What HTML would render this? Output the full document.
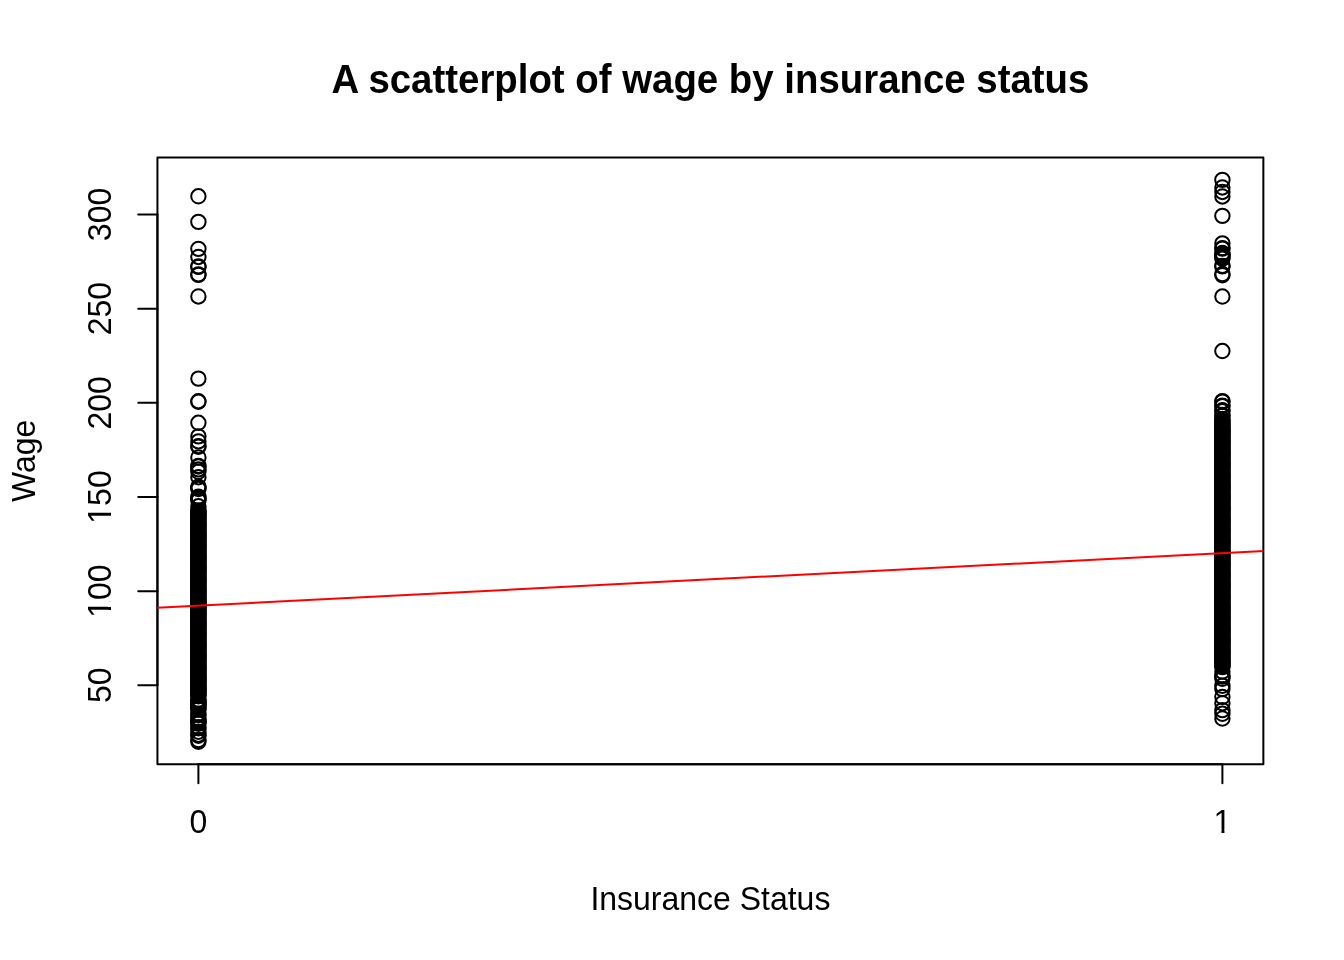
<!DOCTYPE html>
<html lang="en"><head><meta charset="utf-8"><title>A scatterplot of wage by insurance status</title>
<style>html,body{margin:0;padding:0;background:#fff}body{width:1344px;height:960px;overflow:hidden}svg{display:block}text{font-family:"Liberation Sans",sans-serif;fill:#000}</style></head><body>
<svg width="1344" height="960" viewBox="0 0 1344 960">
<rect width="1344" height="960" fill="#fff"/>
<defs><clipPath id="plot"><rect x="157.44" y="157.44" width="1105.92" height="606.72"/></clipPath><clipPath id="k1"><path d="M-12-30H12V-3.3H2.05V2H-0.97V-3.3H-12Z"/></clipPath><clipPath id="k3"><path d="M-30-30H30V8H-10V-3.3H-15.75V2H-18.77V-3.3H-30Z"/></clipPath></defs>
<g fill="none" stroke="#000" stroke-width="2" clip-path="url(#plot)">
<circle cx="198.4" cy="196.30" r="7.2"/><circle cx="198.4" cy="221.90" r="7.2"/><circle cx="198.4" cy="248.85" r="7.2"/><circle cx="198.4" cy="256.95" r="7.2"/><circle cx="198.4" cy="266.40" r="7.2"/><circle cx="198.4" cy="266.90" r="7.2"/><circle cx="198.4" cy="274.40" r="7.2"/><circle cx="198.4" cy="274.90" r="7.2"/><circle cx="198.4" cy="296.45" r="7.2"/><circle cx="198.4" cy="378.60" r="7.2"/><circle cx="198.4" cy="401.20" r="7.2"/><circle cx="198.4" cy="401.80" r="7.2"/><circle cx="198.4" cy="422.80" r="7.2"/><circle cx="198.4" cy="436.40" r="7.2"/><circle cx="198.4" cy="441.40" r="7.2"/><circle cx="198.4" cy="446.10" r="7.2"/><circle cx="198.4" cy="446.70" r="7.2"/><circle cx="198.4" cy="457.50" r="7.2"/><circle cx="198.4" cy="465.90" r="7.2"/><circle cx="198.4" cy="466.50" r="7.2"/><circle cx="198.4" cy="469.40" r="7.2"/><circle cx="198.4" cy="471.80" r="7.2"/><circle cx="198.4" cy="477.20" r="7.2"/><circle cx="198.4" cy="486.60" r="7.2"/><circle cx="198.4" cy="487.80" r="7.2"/><circle cx="198.4" cy="489.00" r="7.2"/><circle cx="198.4" cy="496.70" r="7.2"/><circle cx="198.4" cy="498.00" r="7.2"/><circle cx="198.4" cy="499.30" r="7.2"/><circle cx="198.4" cy="500.60" r="7.2"/><circle cx="198.4" cy="506.20" r="7.2"/><circle cx="198.4" cy="510.40" r="7.2"/><circle cx="198.4" cy="511.50" r="7.2"/><circle cx="198.4" cy="512.60" r="7.2"/><circle cx="198.4" cy="513.70" r="7.2"/><circle cx="198.4" cy="514.80" r="7.2"/><circle cx="198.4" cy="515.90" r="7.2"/><circle cx="198.4" cy="517.00" r="7.2"/><circle cx="198.4" cy="518.10" r="7.2"/><circle cx="198.4" cy="519.20" r="7.2"/><circle cx="198.4" cy="520.30" r="7.2"/><circle cx="198.4" cy="521.40" r="7.2"/><circle cx="198.4" cy="522.50" r="7.2"/><circle cx="198.4" cy="523.60" r="7.2"/><circle cx="198.4" cy="524.70" r="7.2"/><circle cx="198.4" cy="525.80" r="7.2"/><circle cx="198.4" cy="526.90" r="7.2"/><circle cx="198.4" cy="528.00" r="7.2"/><circle cx="198.4" cy="529.10" r="7.2"/><circle cx="198.4" cy="530.20" r="7.2"/><circle cx="198.4" cy="531.30" r="7.2"/><circle cx="198.4" cy="532.40" r="7.2"/><circle cx="198.4" cy="533.50" r="7.2"/><circle cx="198.4" cy="534.60" r="7.2"/><circle cx="198.4" cy="535.70" r="7.2"/><circle cx="198.4" cy="536.80" r="7.2"/><circle cx="198.4" cy="537.90" r="7.2"/><circle cx="198.4" cy="539.00" r="7.2"/><circle cx="198.4" cy="540.10" r="7.2"/><circle cx="198.4" cy="541.20" r="7.2"/><circle cx="198.4" cy="542.30" r="7.2"/><circle cx="198.4" cy="543.40" r="7.2"/><circle cx="198.4" cy="544.50" r="7.2"/><circle cx="198.4" cy="545.60" r="7.2"/><circle cx="198.4" cy="546.70" r="7.2"/><circle cx="198.4" cy="547.80" r="7.2"/><circle cx="198.4" cy="548.90" r="7.2"/><circle cx="198.4" cy="550.00" r="7.2"/><circle cx="198.4" cy="551.10" r="7.2"/><circle cx="198.4" cy="552.20" r="7.2"/><circle cx="198.4" cy="553.30" r="7.2"/><circle cx="198.4" cy="554.40" r="7.2"/><circle cx="198.4" cy="555.50" r="7.2"/><circle cx="198.4" cy="556.60" r="7.2"/><circle cx="198.4" cy="557.70" r="7.2"/><circle cx="198.4" cy="558.80" r="7.2"/><circle cx="198.4" cy="559.90" r="7.2"/><circle cx="198.4" cy="561.00" r="7.2"/><circle cx="198.4" cy="562.10" r="7.2"/><circle cx="198.4" cy="563.20" r="7.2"/><circle cx="198.4" cy="564.30" r="7.2"/><circle cx="198.4" cy="565.40" r="7.2"/><circle cx="198.4" cy="566.50" r="7.2"/><circle cx="198.4" cy="567.60" r="7.2"/><circle cx="198.4" cy="568.70" r="7.2"/><circle cx="198.4" cy="569.80" r="7.2"/><circle cx="198.4" cy="570.90" r="7.2"/><circle cx="198.4" cy="572.00" r="7.2"/><circle cx="198.4" cy="573.10" r="7.2"/><circle cx="198.4" cy="574.20" r="7.2"/><circle cx="198.4" cy="575.30" r="7.2"/><circle cx="198.4" cy="576.40" r="7.2"/><circle cx="198.4" cy="577.50" r="7.2"/><circle cx="198.4" cy="578.60" r="7.2"/><circle cx="198.4" cy="579.70" r="7.2"/><circle cx="198.4" cy="580.80" r="7.2"/><circle cx="198.4" cy="581.90" r="7.2"/><circle cx="198.4" cy="583.00" r="7.2"/><circle cx="198.4" cy="584.10" r="7.2"/><circle cx="198.4" cy="585.20" r="7.2"/><circle cx="198.4" cy="586.30" r="7.2"/><circle cx="198.4" cy="587.40" r="7.2"/><circle cx="198.4" cy="588.50" r="7.2"/><circle cx="198.4" cy="589.60" r="7.2"/><circle cx="198.4" cy="590.70" r="7.2"/><circle cx="198.4" cy="591.80" r="7.2"/><circle cx="198.4" cy="592.90" r="7.2"/><circle cx="198.4" cy="594.00" r="7.2"/><circle cx="198.4" cy="595.10" r="7.2"/><circle cx="198.4" cy="596.20" r="7.2"/><circle cx="198.4" cy="597.30" r="7.2"/><circle cx="198.4" cy="598.40" r="7.2"/><circle cx="198.4" cy="599.50" r="7.2"/><circle cx="198.4" cy="600.60" r="7.2"/><circle cx="198.4" cy="601.70" r="7.2"/><circle cx="198.4" cy="602.80" r="7.2"/><circle cx="198.4" cy="603.90" r="7.2"/><circle cx="198.4" cy="605.00" r="7.2"/><circle cx="198.4" cy="606.10" r="7.2"/><circle cx="198.4" cy="607.20" r="7.2"/><circle cx="198.4" cy="608.30" r="7.2"/><circle cx="198.4" cy="609.40" r="7.2"/><circle cx="198.4" cy="610.50" r="7.2"/><circle cx="198.4" cy="611.60" r="7.2"/><circle cx="198.4" cy="612.70" r="7.2"/><circle cx="198.4" cy="613.80" r="7.2"/><circle cx="198.4" cy="614.90" r="7.2"/><circle cx="198.4" cy="616.00" r="7.2"/><circle cx="198.4" cy="617.10" r="7.2"/><circle cx="198.4" cy="618.20" r="7.2"/><circle cx="198.4" cy="619.30" r="7.2"/><circle cx="198.4" cy="620.40" r="7.2"/><circle cx="198.4" cy="621.50" r="7.2"/><circle cx="198.4" cy="622.60" r="7.2"/><circle cx="198.4" cy="623.70" r="7.2"/><circle cx="198.4" cy="624.80" r="7.2"/><circle cx="198.4" cy="625.90" r="7.2"/><circle cx="198.4" cy="627.00" r="7.2"/><circle cx="198.4" cy="628.10" r="7.2"/><circle cx="198.4" cy="629.20" r="7.2"/><circle cx="198.4" cy="630.30" r="7.2"/><circle cx="198.4" cy="631.40" r="7.2"/><circle cx="198.4" cy="632.50" r="7.2"/><circle cx="198.4" cy="633.60" r="7.2"/><circle cx="198.4" cy="634.70" r="7.2"/><circle cx="198.4" cy="635.80" r="7.2"/><circle cx="198.4" cy="636.90" r="7.2"/><circle cx="198.4" cy="638.00" r="7.2"/><circle cx="198.4" cy="639.10" r="7.2"/><circle cx="198.4" cy="640.20" r="7.2"/><circle cx="198.4" cy="641.30" r="7.2"/><circle cx="198.4" cy="642.40" r="7.2"/><circle cx="198.4" cy="643.50" r="7.2"/><circle cx="198.4" cy="644.60" r="7.2"/><circle cx="198.4" cy="645.70" r="7.2"/><circle cx="198.4" cy="646.80" r="7.2"/><circle cx="198.4" cy="647.90" r="7.2"/><circle cx="198.4" cy="649.00" r="7.2"/><circle cx="198.4" cy="650.10" r="7.2"/><circle cx="198.4" cy="651.20" r="7.2"/><circle cx="198.4" cy="652.30" r="7.2"/><circle cx="198.4" cy="653.40" r="7.2"/><circle cx="198.4" cy="654.50" r="7.2"/><circle cx="198.4" cy="655.60" r="7.2"/><circle cx="198.4" cy="656.70" r="7.2"/><circle cx="198.4" cy="657.80" r="7.2"/><circle cx="198.4" cy="658.90" r="7.2"/><circle cx="198.4" cy="660.00" r="7.2"/><circle cx="198.4" cy="661.10" r="7.2"/><circle cx="198.4" cy="662.20" r="7.2"/><circle cx="198.4" cy="663.30" r="7.2"/><circle cx="198.4" cy="664.40" r="7.2"/><circle cx="198.4" cy="665.50" r="7.2"/><circle cx="198.4" cy="666.60" r="7.2"/><circle cx="198.4" cy="667.70" r="7.2"/><circle cx="198.4" cy="668.80" r="7.2"/><circle cx="198.4" cy="669.90" r="7.2"/><circle cx="198.4" cy="671.00" r="7.2"/><circle cx="198.4" cy="672.10" r="7.2"/><circle cx="198.4" cy="673.20" r="7.2"/><circle cx="198.4" cy="674.30" r="7.2"/><circle cx="198.4" cy="675.40" r="7.2"/><circle cx="198.4" cy="676.50" r="7.2"/><circle cx="198.4" cy="677.60" r="7.2"/><circle cx="198.4" cy="678.70" r="7.2"/><circle cx="198.4" cy="679.80" r="7.2"/><circle cx="198.4" cy="680.90" r="7.2"/><circle cx="198.4" cy="682.00" r="7.2"/><circle cx="198.4" cy="683.10" r="7.2"/><circle cx="198.4" cy="684.20" r="7.2"/><circle cx="198.4" cy="685.30" r="7.2"/><circle cx="198.4" cy="686.40" r="7.2"/><circle cx="198.4" cy="687.50" r="7.2"/><circle cx="198.4" cy="688.60" r="7.2"/><circle cx="198.4" cy="689.70" r="7.2"/><circle cx="198.4" cy="690.80" r="7.2"/><circle cx="198.4" cy="691.90" r="7.2"/><circle cx="198.4" cy="693.00" r="7.2"/><circle cx="198.4" cy="694.10" r="7.2"/><circle cx="198.4" cy="695.20" r="7.2"/><circle cx="198.4" cy="696.30" r="7.2"/><circle cx="198.4" cy="699.60" r="7.2"/><circle cx="198.4" cy="700.70" r="7.2"/><circle cx="198.4" cy="701.80" r="7.2"/><circle cx="198.4" cy="702.90" r="7.2"/><circle cx="198.4" cy="704.00" r="7.2"/><circle cx="198.4" cy="705.10" r="7.2"/><circle cx="198.4" cy="706.20" r="7.2"/><circle cx="198.4" cy="707.30" r="7.2"/><circle cx="198.4" cy="708.40" r="7.2"/><circle cx="198.4" cy="709.50" r="7.2"/><circle cx="198.4" cy="713.90" r="7.2"/><circle cx="198.4" cy="715.00" r="7.2"/><circle cx="198.4" cy="718.30" r="7.2"/><circle cx="198.4" cy="719.40" r="7.2"/><circle cx="198.4" cy="720.50" r="7.2"/><circle cx="198.4" cy="721.60" r="7.2"/><circle cx="198.4" cy="722.70" r="7.2"/><circle cx="198.4" cy="723.80" r="7.2"/><circle cx="198.4" cy="727.20" r="7.2"/><circle cx="198.4" cy="728.30" r="7.2"/><circle cx="198.4" cy="731.80" r="7.2"/><circle cx="198.4" cy="734.70" r="7.2"/><circle cx="198.4" cy="735.80" r="7.2"/><circle cx="198.4" cy="740.00" r="7.2"/><circle cx="198.4" cy="741.70" r="7.2"/>
<circle cx="1222.4" cy="179.91" r="7.2"/><circle cx="1222.4" cy="187.47" r="7.2"/><circle cx="1222.4" cy="191.98" r="7.2"/><circle cx="1222.4" cy="196.43" r="7.2"/><circle cx="1222.4" cy="215.90" r="7.2"/><circle cx="1222.4" cy="243.40" r="7.2"/><circle cx="1222.4" cy="248.10" r="7.2"/><circle cx="1222.4" cy="248.60" r="7.2"/><circle cx="1222.4" cy="253.00" r="7.2"/><circle cx="1222.4" cy="254.30" r="7.2"/><circle cx="1222.4" cy="255.70" r="7.2"/><circle cx="1222.4" cy="257.20" r="7.2"/><circle cx="1222.4" cy="258.60" r="7.2"/><circle cx="1222.4" cy="265.90" r="7.2"/><circle cx="1222.4" cy="266.40" r="7.2"/><circle cx="1222.4" cy="274.00" r="7.2"/><circle cx="1222.4" cy="275.20" r="7.2"/><circle cx="1222.4" cy="296.55" r="7.2"/><circle cx="1222.4" cy="351.06" r="7.2"/><circle cx="1222.4" cy="401.10" r="7.2"/><circle cx="1222.4" cy="401.60" r="7.2"/><circle cx="1222.4" cy="405.60" r="7.2"/><circle cx="1222.4" cy="406.10" r="7.2"/><circle cx="1222.4" cy="410.20" r="7.2"/><circle cx="1222.4" cy="411.10" r="7.2"/><circle cx="1222.4" cy="415.00" r="7.2"/><circle cx="1222.4" cy="416.00" r="7.2"/><circle cx="1222.4" cy="419.00" r="7.2"/><circle cx="1222.4" cy="420.00" r="7.2"/><circle cx="1222.4" cy="421.20" r="7.2"/><circle cx="1222.4" cy="422.80" r="7.2"/><circle cx="1222.4" cy="424.00" r="7.2"/><circle cx="1222.4" cy="425.10" r="7.2"/><circle cx="1222.4" cy="426.20" r="7.2"/><circle cx="1222.4" cy="427.30" r="7.2"/><circle cx="1222.4" cy="428.40" r="7.2"/><circle cx="1222.4" cy="429.50" r="7.2"/><circle cx="1222.4" cy="430.60" r="7.2"/><circle cx="1222.4" cy="431.70" r="7.2"/><circle cx="1222.4" cy="432.80" r="7.2"/><circle cx="1222.4" cy="433.90" r="7.2"/><circle cx="1222.4" cy="435.00" r="7.2"/><circle cx="1222.4" cy="436.10" r="7.2"/><circle cx="1222.4" cy="437.20" r="7.2"/><circle cx="1222.4" cy="438.30" r="7.2"/><circle cx="1222.4" cy="439.40" r="7.2"/><circle cx="1222.4" cy="440.50" r="7.2"/><circle cx="1222.4" cy="441.60" r="7.2"/><circle cx="1222.4" cy="442.70" r="7.2"/><circle cx="1222.4" cy="443.80" r="7.2"/><circle cx="1222.4" cy="444.90" r="7.2"/><circle cx="1222.4" cy="446.00" r="7.2"/><circle cx="1222.4" cy="447.10" r="7.2"/><circle cx="1222.4" cy="448.20" r="7.2"/><circle cx="1222.4" cy="449.30" r="7.2"/><circle cx="1222.4" cy="450.40" r="7.2"/><circle cx="1222.4" cy="451.50" r="7.2"/><circle cx="1222.4" cy="452.60" r="7.2"/><circle cx="1222.4" cy="453.70" r="7.2"/><circle cx="1222.4" cy="454.80" r="7.2"/><circle cx="1222.4" cy="455.90" r="7.2"/><circle cx="1222.4" cy="457.00" r="7.2"/><circle cx="1222.4" cy="458.10" r="7.2"/><circle cx="1222.4" cy="459.20" r="7.2"/><circle cx="1222.4" cy="460.30" r="7.2"/><circle cx="1222.4" cy="461.40" r="7.2"/><circle cx="1222.4" cy="462.50" r="7.2"/><circle cx="1222.4" cy="463.60" r="7.2"/><circle cx="1222.4" cy="464.70" r="7.2"/><circle cx="1222.4" cy="465.80" r="7.2"/><circle cx="1222.4" cy="466.90" r="7.2"/><circle cx="1222.4" cy="468.00" r="7.2"/><circle cx="1222.4" cy="469.10" r="7.2"/><circle cx="1222.4" cy="470.20" r="7.2"/><circle cx="1222.4" cy="471.30" r="7.2"/><circle cx="1222.4" cy="472.40" r="7.2"/><circle cx="1222.4" cy="473.50" r="7.2"/><circle cx="1222.4" cy="474.60" r="7.2"/><circle cx="1222.4" cy="475.70" r="7.2"/><circle cx="1222.4" cy="476.80" r="7.2"/><circle cx="1222.4" cy="477.90" r="7.2"/><circle cx="1222.4" cy="479.00" r="7.2"/><circle cx="1222.4" cy="480.10" r="7.2"/><circle cx="1222.4" cy="481.20" r="7.2"/><circle cx="1222.4" cy="482.30" r="7.2"/><circle cx="1222.4" cy="483.40" r="7.2"/><circle cx="1222.4" cy="484.50" r="7.2"/><circle cx="1222.4" cy="485.60" r="7.2"/><circle cx="1222.4" cy="486.70" r="7.2"/><circle cx="1222.4" cy="487.80" r="7.2"/><circle cx="1222.4" cy="488.90" r="7.2"/><circle cx="1222.4" cy="490.00" r="7.2"/><circle cx="1222.4" cy="491.10" r="7.2"/><circle cx="1222.4" cy="492.20" r="7.2"/><circle cx="1222.4" cy="493.30" r="7.2"/><circle cx="1222.4" cy="494.40" r="7.2"/><circle cx="1222.4" cy="495.50" r="7.2"/><circle cx="1222.4" cy="496.60" r="7.2"/><circle cx="1222.4" cy="497.70" r="7.2"/><circle cx="1222.4" cy="498.80" r="7.2"/><circle cx="1222.4" cy="499.90" r="7.2"/><circle cx="1222.4" cy="501.00" r="7.2"/><circle cx="1222.4" cy="502.10" r="7.2"/><circle cx="1222.4" cy="503.20" r="7.2"/><circle cx="1222.4" cy="504.30" r="7.2"/><circle cx="1222.4" cy="505.40" r="7.2"/><circle cx="1222.4" cy="506.50" r="7.2"/><circle cx="1222.4" cy="507.60" r="7.2"/><circle cx="1222.4" cy="508.70" r="7.2"/><circle cx="1222.4" cy="509.80" r="7.2"/><circle cx="1222.4" cy="510.90" r="7.2"/><circle cx="1222.4" cy="512.00" r="7.2"/><circle cx="1222.4" cy="513.10" r="7.2"/><circle cx="1222.4" cy="514.20" r="7.2"/><circle cx="1222.4" cy="515.30" r="7.2"/><circle cx="1222.4" cy="516.40" r="7.2"/><circle cx="1222.4" cy="517.50" r="7.2"/><circle cx="1222.4" cy="518.60" r="7.2"/><circle cx="1222.4" cy="519.70" r="7.2"/><circle cx="1222.4" cy="520.80" r="7.2"/><circle cx="1222.4" cy="521.90" r="7.2"/><circle cx="1222.4" cy="523.00" r="7.2"/><circle cx="1222.4" cy="524.10" r="7.2"/><circle cx="1222.4" cy="525.20" r="7.2"/><circle cx="1222.4" cy="526.30" r="7.2"/><circle cx="1222.4" cy="527.40" r="7.2"/><circle cx="1222.4" cy="528.50" r="7.2"/><circle cx="1222.4" cy="529.60" r="7.2"/><circle cx="1222.4" cy="530.70" r="7.2"/><circle cx="1222.4" cy="531.80" r="7.2"/><circle cx="1222.4" cy="532.90" r="7.2"/><circle cx="1222.4" cy="534.00" r="7.2"/><circle cx="1222.4" cy="535.10" r="7.2"/><circle cx="1222.4" cy="536.20" r="7.2"/><circle cx="1222.4" cy="537.30" r="7.2"/><circle cx="1222.4" cy="538.40" r="7.2"/><circle cx="1222.4" cy="539.50" r="7.2"/><circle cx="1222.4" cy="540.60" r="7.2"/><circle cx="1222.4" cy="541.70" r="7.2"/><circle cx="1222.4" cy="542.80" r="7.2"/><circle cx="1222.4" cy="543.90" r="7.2"/><circle cx="1222.4" cy="545.00" r="7.2"/><circle cx="1222.4" cy="546.10" r="7.2"/><circle cx="1222.4" cy="547.20" r="7.2"/><circle cx="1222.4" cy="548.30" r="7.2"/><circle cx="1222.4" cy="549.40" r="7.2"/><circle cx="1222.4" cy="550.50" r="7.2"/><circle cx="1222.4" cy="551.60" r="7.2"/><circle cx="1222.4" cy="552.70" r="7.2"/><circle cx="1222.4" cy="553.80" r="7.2"/><circle cx="1222.4" cy="554.90" r="7.2"/><circle cx="1222.4" cy="556.00" r="7.2"/><circle cx="1222.4" cy="557.10" r="7.2"/><circle cx="1222.4" cy="558.20" r="7.2"/><circle cx="1222.4" cy="559.30" r="7.2"/><circle cx="1222.4" cy="560.40" r="7.2"/><circle cx="1222.4" cy="561.50" r="7.2"/><circle cx="1222.4" cy="562.60" r="7.2"/><circle cx="1222.4" cy="563.70" r="7.2"/><circle cx="1222.4" cy="564.80" r="7.2"/><circle cx="1222.4" cy="565.90" r="7.2"/><circle cx="1222.4" cy="567.00" r="7.2"/><circle cx="1222.4" cy="568.10" r="7.2"/><circle cx="1222.4" cy="569.20" r="7.2"/><circle cx="1222.4" cy="570.30" r="7.2"/><circle cx="1222.4" cy="571.40" r="7.2"/><circle cx="1222.4" cy="572.50" r="7.2"/><circle cx="1222.4" cy="573.60" r="7.2"/><circle cx="1222.4" cy="574.70" r="7.2"/><circle cx="1222.4" cy="575.80" r="7.2"/><circle cx="1222.4" cy="576.90" r="7.2"/><circle cx="1222.4" cy="578.00" r="7.2"/><circle cx="1222.4" cy="579.10" r="7.2"/><circle cx="1222.4" cy="580.20" r="7.2"/><circle cx="1222.4" cy="581.30" r="7.2"/><circle cx="1222.4" cy="582.40" r="7.2"/><circle cx="1222.4" cy="583.50" r="7.2"/><circle cx="1222.4" cy="584.60" r="7.2"/><circle cx="1222.4" cy="585.70" r="7.2"/><circle cx="1222.4" cy="586.80" r="7.2"/><circle cx="1222.4" cy="587.90" r="7.2"/><circle cx="1222.4" cy="589.00" r="7.2"/><circle cx="1222.4" cy="590.10" r="7.2"/><circle cx="1222.4" cy="591.20" r="7.2"/><circle cx="1222.4" cy="592.30" r="7.2"/><circle cx="1222.4" cy="593.40" r="7.2"/><circle cx="1222.4" cy="594.50" r="7.2"/><circle cx="1222.4" cy="595.60" r="7.2"/><circle cx="1222.4" cy="596.70" r="7.2"/><circle cx="1222.4" cy="597.80" r="7.2"/><circle cx="1222.4" cy="598.90" r="7.2"/><circle cx="1222.4" cy="600.00" r="7.2"/><circle cx="1222.4" cy="601.10" r="7.2"/><circle cx="1222.4" cy="602.20" r="7.2"/><circle cx="1222.4" cy="603.30" r="7.2"/><circle cx="1222.4" cy="604.40" r="7.2"/><circle cx="1222.4" cy="605.50" r="7.2"/><circle cx="1222.4" cy="606.60" r="7.2"/><circle cx="1222.4" cy="607.70" r="7.2"/><circle cx="1222.4" cy="608.80" r="7.2"/><circle cx="1222.4" cy="609.90" r="7.2"/><circle cx="1222.4" cy="611.00" r="7.2"/><circle cx="1222.4" cy="612.10" r="7.2"/><circle cx="1222.4" cy="613.20" r="7.2"/><circle cx="1222.4" cy="614.30" r="7.2"/><circle cx="1222.4" cy="615.40" r="7.2"/><circle cx="1222.4" cy="616.50" r="7.2"/><circle cx="1222.4" cy="617.60" r="7.2"/><circle cx="1222.4" cy="618.70" r="7.2"/><circle cx="1222.4" cy="619.80" r="7.2"/><circle cx="1222.4" cy="620.90" r="7.2"/><circle cx="1222.4" cy="622.00" r="7.2"/><circle cx="1222.4" cy="623.10" r="7.2"/><circle cx="1222.4" cy="624.20" r="7.2"/><circle cx="1222.4" cy="625.30" r="7.2"/><circle cx="1222.4" cy="626.40" r="7.2"/><circle cx="1222.4" cy="627.50" r="7.2"/><circle cx="1222.4" cy="628.60" r="7.2"/><circle cx="1222.4" cy="629.70" r="7.2"/><circle cx="1222.4" cy="630.80" r="7.2"/><circle cx="1222.4" cy="631.90" r="7.2"/><circle cx="1222.4" cy="633.00" r="7.2"/><circle cx="1222.4" cy="634.10" r="7.2"/><circle cx="1222.4" cy="635.20" r="7.2"/><circle cx="1222.4" cy="636.30" r="7.2"/><circle cx="1222.4" cy="637.40" r="7.2"/><circle cx="1222.4" cy="638.50" r="7.2"/><circle cx="1222.4" cy="639.60" r="7.2"/><circle cx="1222.4" cy="640.70" r="7.2"/><circle cx="1222.4" cy="641.80" r="7.2"/><circle cx="1222.4" cy="642.90" r="7.2"/><circle cx="1222.4" cy="644.00" r="7.2"/><circle cx="1222.4" cy="645.10" r="7.2"/><circle cx="1222.4" cy="646.20" r="7.2"/><circle cx="1222.4" cy="647.30" r="7.2"/><circle cx="1222.4" cy="648.40" r="7.2"/><circle cx="1222.4" cy="649.50" r="7.2"/><circle cx="1222.4" cy="650.60" r="7.2"/><circle cx="1222.4" cy="651.70" r="7.2"/><circle cx="1222.4" cy="652.80" r="7.2"/><circle cx="1222.4" cy="653.90" r="7.2"/><circle cx="1222.4" cy="655.00" r="7.2"/><circle cx="1222.4" cy="656.10" r="7.2"/><circle cx="1222.4" cy="657.20" r="7.2"/><circle cx="1222.4" cy="658.30" r="7.2"/><circle cx="1222.4" cy="659.40" r="7.2"/><circle cx="1222.4" cy="660.50" r="7.2"/><circle cx="1222.4" cy="661.60" r="7.2"/><circle cx="1222.4" cy="662.70" r="7.2"/><circle cx="1222.4" cy="663.80" r="7.2"/><circle cx="1222.4" cy="664.90" r="7.2"/><circle cx="1222.4" cy="666.00" r="7.2"/><circle cx="1222.4" cy="667.10" r="7.2"/><circle cx="1222.4" cy="671.60" r="7.2"/><circle cx="1222.4" cy="675.70" r="7.2"/><circle cx="1222.4" cy="676.50" r="7.2"/><circle cx="1222.4" cy="678.80" r="7.2"/><circle cx="1222.4" cy="685.80" r="7.2"/><circle cx="1222.4" cy="689.10" r="7.2"/><circle cx="1222.4" cy="697.00" r="7.2"/><circle cx="1222.4" cy="703.20" r="7.2"/><circle cx="1222.4" cy="710.10" r="7.2"/><circle cx="1222.4" cy="713.80" r="7.2"/><circle cx="1222.4" cy="718.50" r="7.2"/>
</g>
<g fill="none" stroke="#000" stroke-width="2" stroke-linecap="round" stroke-linejoin="round">
<path d="M198.4 764.16H1222.4"/><path d="M198.4 764.16v19.2"/><path d="M1222.4 764.16v19.2"/><path d="M157.44 685.34V214.46"/><path d="M157.44 685.34h-19.2"/><path d="M157.44 591.17h-19.2"/><path d="M157.44 496.99h-19.2"/><path d="M157.44 402.81h-19.2"/><path d="M157.44 308.64h-19.2"/><path d="M157.44 214.46h-19.2"/>
<rect x="157.44" y="157.44" width="1105.92" height="606.72"/>
</g>
<g font-size="32" text-anchor="middle">
<text transform="translate(198.4 833.0) scale(1 1.04)">0</text><text transform="translate(1222.4 833.0) scale(1 1.04)" clip-path="url(#k1)">1</text><text transform="translate(111.36 685.34) rotate(-90) scale(1 1.04)">50</text><text transform="translate(111.36 591.17) rotate(-90) scale(1 1.04)" clip-path="url(#k3)">100</text><text transform="translate(111.36 496.99) rotate(-90) scale(1 1.04)" clip-path="url(#k3)">150</text><text transform="translate(111.36 402.81) rotate(-90) scale(1 1.04)">200</text><text transform="translate(111.36 308.64) rotate(-90) scale(1 1.04)">250</text><text transform="translate(111.36 214.46) rotate(-90) scale(1 1.04)">300</text>
<text transform="translate(710.4 909.9) scale(1 1.04)">Insurance Status</text>
<text transform="translate(34.56 460.8) rotate(-90) scale(1 1.04)">Wage</text>
</g>
<text transform="translate(710.4 93.2) scale(1 1.04)" font-size="38.4" font-weight="bold" text-anchor="middle">A scatterplot of wage by insurance status</text>
<path d="M147.20 608.26L1273.60 550.41" stroke="#f00" stroke-width="2" fill="none" clip-path="url(#plot)"/>
</svg>
</body></html>
